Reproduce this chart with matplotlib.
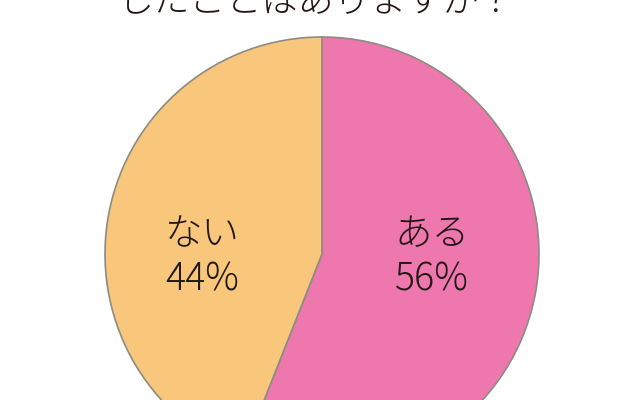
import matplotlib.pyplot as plt

plt.rcParams['font.family'] = ['Noto Sans CJK JP', 'DejaVu Sans']

# data
labels = ["ある", "ない"]
values = [56, 44]
colors = ["#EE78AE", "#F8C77B"]
title = "したことはありますか？"

# pie geometry in pixels (640x400 canvas)
cx, cy, r = 322, 254, 217
label_pos = [(432, 257), (202, 257)]  # label centres in pixels

fig = plt.figure(figsize=(6.4, 4.0), dpi=100)
ax = fig.add_axes([0, 0, 1, 1])
ax.axis('off')

ax.pie(values, colors=colors, startangle=90, counterclock=False,
       radius=1.0, center=(0, 0),
       wedgeprops=dict(edgecolor='#8c8c82', linewidth=1.2))

# map pixels to data coords
ax.set_xlim((0 - cx) / r, (640 - cx) / r)
ax.set_ylim((cy - 400) / r, (cy - 0) / r)
ax.set_aspect('auto')

for lab, val, (px, py) in zip(labels, values, label_pos):
    ax.text((px - cx) / r, (cy - py) / r, f"{lab}\n{val}%",
            ha='center', va='center', fontsize=27, color='#231815',
            fontweight='light', linespacing=1.2)

fig.text(317 / 640, 1 - 12 / 400, title, ha='center', va='baseline',
         fontsize=26, color='#231815', fontweight='light')

fig.savefig("out.png", dpi=100, facecolor="white")
